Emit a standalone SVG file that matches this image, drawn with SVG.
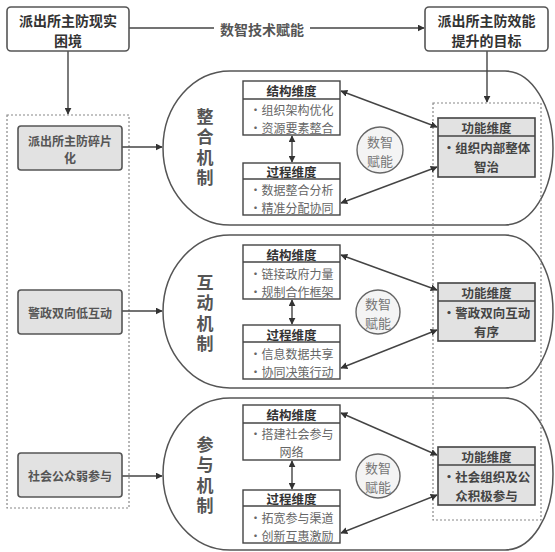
<svg xmlns="http://www.w3.org/2000/svg" width="555" height="552" viewBox="0 0 555 552">
<defs>
<marker id="ah" viewBox="0 0 10 10" refX="9" refY="5" markerWidth="7" markerHeight="7" markerUnits="userSpaceOnUse" orient="auto-start-reverse">
<path d="M0,0 L10,5 L0,10 Z" fill="#333"/>
</marker>
<style>
text{font-family:"Noto Sans CJK SC","Noto Sans",sans-serif;text-anchor:middle;dominant-baseline:central}
.top{fill:#fff;stroke:#555;stroke-width:1.6}
.topt{font-size:14px;font-weight:bold;fill:#333}
.lbox{fill:#e2e2e2;stroke:#555;stroke-width:1.6}
.lt{font-size:12px;font-weight:bold;fill:#555}
.dash{fill:none;stroke:#888;stroke-width:1.2;stroke-dasharray:2,2}
.pill{fill:#fff;stroke:#555;stroke-width:1.5}
.vt{font-size:17px;font-weight:bold;fill:#555;writing-mode:vertical-rl;letter-spacing:3.5px}
.dim{fill:#fff;stroke:#444;stroke-width:1.4}
.dh{font-size:12.5px;font-weight:bold;fill:#333}
.di{font-size:12px;fill:#666}
.fbox{fill:#e2e2e2;stroke:#444;stroke-width:1.6}
.fi{font-size:12.5px;font-weight:bold;fill:#444}
.circ{fill:#f4f4f4;stroke:#666;stroke-width:1.4}
.ct{font-size:13px;fill:#777}
.c{fill:none;stroke:#444;stroke-width:1.4}
</style>
</defs>

<g id="containers">
<rect class="dash" x="7" y="115" width="122" height="393"/>
</g>

<g id="pills">
<path class="pill" d="M230,71 H505 A48,77 0 0 1 505,225 H230 A67,77 0 0 1 230,71 Z"/>
<path class="pill" d="M230,235 H505 A48,76.5 0 0 1 505,388 H230 A67,76.5 0 0 1 230,235 Z"/>
<path class="pill" d="M230,398 H505 A48,76 0 0 1 505,550 H230 A67,76 0 0 1 230,398 Z"/>
<rect class="dash" x="433" y="103" width="108" height="417"/>
</g>

<g id="connectors">
<line class="c" x1="129" y1="28" x2="424" y2="28" marker-end="url(#ah)"/>
<rect x="214" y="19" width="96" height="20" fill="#fff"/>
<text x="262" y="28.5" style="font-size:14px;font-weight:bold;fill:#555">数智技术赋能</text>
<line class="c" x1="68" y1="51" x2="68" y2="114" marker-end="url(#ah)"/>
<line class="c" x1="487" y1="51" x2="487" y2="102" marker-end="url(#ah)"/>
<line class="c" x1="122" y1="147" x2="162" y2="147" marker-end="url(#ah)"/>
<line class="c" x1="122" y1="311" x2="162" y2="311" marker-end="url(#ah)"/>
<line class="c" x1="122" y1="476" x2="162" y2="476" marker-end="url(#ah)"/>
<line class="c" x1="292" y1="136" x2="292" y2="162" marker-start="url(#ah)" marker-end="url(#ah)"/>
<line class="c" x1="292" y1="300" x2="292" y2="324" marker-start="url(#ah)" marker-end="url(#ah)"/>
<line class="c" x1="292" y1="461" x2="292" y2="489" marker-start="url(#ah)" marker-end="url(#ah)"/>
<line class="c" x1="341" y1="91" x2="437" y2="127" marker-start="url(#ah)" marker-end="url(#ah)"/>
<line class="c" x1="437" y1="167" x2="341" y2="203" marker-start="url(#ah)" marker-end="url(#ah)"/>
<line class="c" x1="341" y1="255" x2="437" y2="290" marker-start="url(#ah)" marker-end="url(#ah)"/>
<line class="c" x1="437" y1="330" x2="341" y2="368" marker-start="url(#ah)" marker-end="url(#ah)"/>
<line class="c" x1="341" y1="413" x2="437" y2="455" marker-start="url(#ah)" marker-end="url(#ah)"/>
<line class="c" x1="437" y1="495" x2="341" y2="533" marker-start="url(#ah)" marker-end="url(#ah)"/>
</g>

<g id="n-top-left">
<rect class="top" x="7" y="7" width="122" height="44" rx="4"/>
<text class="topt"><tspan x="68" y="20">派出所主防现实</tspan><tspan x="68" y="40">困境</tspan></text>
</g>
<g id="n-top-right">
<rect class="top" x="425" y="7" width="123" height="44" rx="4"/>
<text class="topt"><tspan x="486.5" y="20">派出所主防效能</tspan><tspan x="486.5" y="40">提升的目标</tspan></text>
</g>

<g id="n-left1">
<rect class="lbox" x="18" y="126" width="104" height="44" rx="3"/>
<text class="lt"><tspan x="70" y="140">派出所主防碎片</tspan><tspan x="70" y="157">化</tspan></text>
</g>
<g id="n-left2">
<rect class="lbox" x="18" y="290" width="104" height="44" rx="3"/>
<text class="lt" x="70" y="312">警政双向低互动</text>
</g>
<g id="n-left3">
<rect class="lbox" x="18" y="453" width="104" height="44" rx="3"/>
<text class="lt" x="70" y="475">社会公众弱参与</text>
</g>

<g id="n-mech1">
<text class="vt" x="205" y="149">整合机制</text>
</g>
<g id="n-mech2">
<text class="vt" x="205" y="315">互动机制</text>
</g>
<g id="n-mech3">
<text class="vt" x="205" y="477">参与机制</text>
</g>

<g id="n-struct1">
<rect class="dim" x="243" y="81" width="97" height="54"/>
<line class="dim" x1="243" y1="99" x2="340" y2="99"/>
<text class="dh" x="291.5" y="90">结构维度</text>
<text class="di"><tspan x="291.5" y="109">•组织架构优化</tspan><tspan x="291.5" y="127">•资源要素整合</tspan></text>
</g>
<g id="n-proc1">
<rect class="dim" x="243" y="163" width="97" height="52"/>
<line class="dim" x1="243" y1="179" x2="340" y2="179"/>
<text class="dh" x="291.5" y="171">过程维度</text>
<text class="di"><tspan x="291.5" y="189">•数据整合分析</tspan><tspan x="291.5" y="207">•精准分配协同</tspan></text>
</g>
<g id="n-circ1">
<circle class="circ" cx="380" cy="150" r="23"/>
<text class="ct"><tspan x="380" y="140.5">数智</tspan><tspan x="380" y="159.5">赋能</tspan></text>
</g>
<g id="n-func1">
<rect class="fbox" x="438" y="118" width="97" height="59"/>
<line class="fbox" x1="438" y1="136" x2="535" y2="136"/>
<text class="fi"><tspan x="486.5" y="127">功能维度</tspan><tspan x="486.5" y="147">•组织内部整体</tspan><tspan x="486.5" y="166">智治</tspan></text>
</g>

<g id="n-struct2">
<rect class="dim" x="243" y="245" width="97" height="54"/>
<line class="dim" x1="243" y1="262" x2="340" y2="262"/>
<text class="dh" x="291.5" y="254">结构维度</text>
<text class="di"><tspan x="291.5" y="273">•链接政府力量</tspan><tspan x="291.5" y="291">•规制合作框架</tspan></text>
</g>
<g id="n-proc2">
<rect class="dim" x="243" y="325" width="97" height="54"/>
<line class="dim" x1="243" y1="342" x2="340" y2="342"/>
<text class="dh" x="291.5" y="334">过程维度</text>
<text class="di"><tspan x="291.5" y="353">•信息数据共享</tspan><tspan x="291.5" y="371">•协同决策行动</tspan></text>
</g>
<g id="n-circ2">
<circle class="circ" cx="378" cy="312" r="22"/>
<text class="ct"><tspan x="378" y="302.5">数智</tspan><tspan x="378" y="321.5">赋能</tspan></text>
</g>
<g id="n-func2">
<rect class="fbox" x="438" y="283" width="97" height="58"/>
<line class="fbox" x1="438" y1="301" x2="535" y2="301"/>
<text class="fi"><tspan x="486.5" y="292">功能维度</tspan><tspan x="486.5" y="312">•警政双向互动</tspan><tspan x="486.5" y="331">有序</tspan></text>
</g>

<g id="n-struct3">
<rect class="dim" x="243" y="405" width="97" height="55"/>
<line class="dim" x1="243" y1="423" x2="340" y2="423"/>
<text class="dh" x="291.5" y="414">结构维度</text>
<text class="di"><tspan x="291.5" y="433">•搭建社会参与</tspan><tspan x="291.5" y="451">网络</tspan></text>
</g>
<g id="n-proc3">
<rect class="dim" x="243" y="490" width="97" height="53"/>
<line class="dim" x1="243" y1="506" x2="340" y2="506"/>
<text class="dh" x="291.5" y="498">过程维度</text>
<text class="di"><tspan x="291.5" y="517">•拓宽参与渠道</tspan><tspan x="291.5" y="535">•创新互惠激励</tspan></text>
</g>
<g id="n-circ3">
<circle class="circ" cx="378" cy="476" r="22"/>
<text class="ct"><tspan x="378" y="466.5">数智</tspan><tspan x="378" y="485.5">赋能</tspan></text>
</g>
<g id="n-func3">
<rect class="fbox" x="438" y="447" width="97" height="58"/>
<line class="fbox" x1="438" y1="465" x2="535" y2="465"/>
<text class="fi"><tspan x="486.5" y="456">功能维度</tspan><tspan x="486.5" y="476">•社会组织及公</tspan><tspan x="486.5" y="495">众积极参与</tspan></text>
</g>
</svg>
